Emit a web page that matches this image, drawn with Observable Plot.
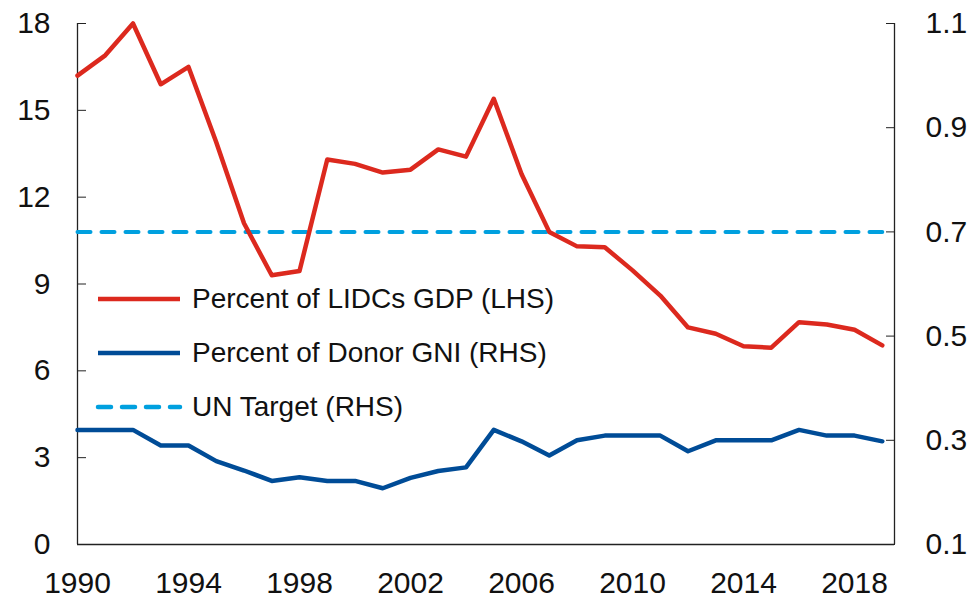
<!DOCTYPE html>
<html>
<head>
<meta charset="utf-8">
<script src="https://cdn.jsdelivr.net/npm/d3@7"></script>
<script src="https://cdn.jsdelivr.net/npm/@observablehq/plot@0.6"></script>
<style>
  html, body { margin: 0; padding: 0; background: #fff; }
  #wrap { position: relative; width: 969px; height: 598px; font-family: "Liberation Sans", Arial, sans-serif; }
  #legend { position: absolute; left: 95px; top: 272px; font-size: 28px; color: #111; }
  .item { display: flex; align-items: center; height: 54px; }
  .item svg { margin-right: 9px; }
</style>
</head>
<body>
<div id="wrap"><div id="legend"></div></div>
<script>
const years = [1990,1991,1992,1993,1994,1995,1996,1997,1998,1999,2000,2001,2002,2003,2004,2005,2006,2007,2008,2009,2010,2011,2012,2013,2014,2015,2016,2017,2018,2019];
const lidcGdp = [16.2,16.9,18.0,15.9,16.5,13.9,11.1,9.3,9.45,13.3,13.15,12.85,12.95,13.65,13.4,15.4,12.8,10.8,10.3,10.27,9.47,8.6,7.5,7.28,6.85,6.8,7.68,7.6,7.42,6.88];
const donorGni = [0.32,0.32,0.32,0.29,0.29,0.26,0.242,0.222,0.229,0.222,0.222,0.208,0.228,0.241,0.248,0.32,0.298,0.271,0.30,0.309,0.309,0.309,0.279,0.30,0.30,0.30,0.32,0.309,0.309,0.298];
const unTarget = 0.7;
const leftTicks = [0,3,6,9,12,15,18];
const rightTicks = [0.1,0.3,0.5,0.7,0.9,1.1];
const xTicks = [1990,1994,1998,2002,2006,2010,2014,2018];
const seriesNames = ["Percent of LIDCs GDP (LHS)","Percent of Donor GNI (RHS)","UN Target (RHS)"];

const RED = "#DC291E", BLUE = "#004C97", LIGHT = "#00A0DF";
const xMax = 2019.44;
// right axis (0.1..1.1) mapped onto left axis (0..18)
const toLeft = v => (v - 0.1) * 18;

const lidc = years.map((y, i) => ({year: y, value: lidcGdp[i]}));
const donor = years.map((y, i) => ({year: y, value: donorGni[i]}));
const target = [{year: years[0], value: unTarget}, {year: years[years.length - 1], value: unTarget}];

const chart = Plot.plot({
  width: 969,
  height: 598,
  marginLeft: 77,
  marginRight: 75,
  marginTop: 23,
  marginBottom: 54,
  style: {fontFamily: '"Liberation Sans", Arial, sans-serif', fontSize: "30px", color: "#111", background: "#fff"},
  x: {domain: [1990, xMax]},
  y: {domain: [0, 18]},
  marks: [
    Plot.ruleX([1990], {stroke: "#222", strokeWidth: 1.3}),
    Plot.ruleX([xMax], {stroke: "#222", strokeWidth: 1.3}),
    Plot.ruleY([0], {stroke: "#222", strokeWidth: 1.3}),
    // left axis: inward ticks + labels
    Plot.axisY({anchor: "left", label: null, ticks: leftTicks, tickSize: 9, dx: 9, tickFormat: () => "", stroke: "#222"}),
    Plot.axisY({anchor: "left", label: null, ticks: leftTicks, tickSize: 0, tickPadding: 27, tickFormat: d => String(d), fill: "#111", fontSize: 30}),
    // right axis
    Plot.axisY({anchor: "right", label: null, ticks: rightTicks.map(toLeft), tickSize: 9, dx: -9, tickFormat: () => "", stroke: "#222"}),
    Plot.axisY({anchor: "right", label: null, ticks: rightTicks.map(toLeft), tickSize: 0, tickPadding: 31, tickFormat: (d, i) => rightTicks[i].toFixed(1), fill: "#111", fontSize: 30}),
    // x axis
    Plot.axisX({anchor: "bottom", label: null, ticks: xTicks, tickSize: 0, tickPadding: 27, tickFormat: d => String(d), fill: "#111", fontSize: 30}),
    Plot.line(target, {x: "year", y: d => toLeft(d.value), stroke: LIGHT, strokeWidth: 4, strokeDasharray: "13,11", strokeLinecap: "round"}),
    Plot.line(donor, {x: "year", y: d => toLeft(d.value), stroke: BLUE, strokeWidth: 4.5, strokeLinejoin: "round"}),
    Plot.line(lidc, {x: "year", y: "value", stroke: RED, strokeWidth: 4.5, strokeLinejoin: "round"})
  ]
});
document.getElementById("wrap").prepend(chart);

const legend = document.getElementById("legend");
const styles = [
  {color: RED, dash: null},
  {color: BLUE, dash: null},
  {color: LIGHT, dash: "13,11"}
];
seriesNames.forEach((name, i) => {
  const item = document.createElement("div");
  item.className = "item";
  const s = styles[i];
  item.innerHTML = `<svg width="88" height="8"><line x1="3" y1="4" x2="85" y2="4" stroke="${s.color}" stroke-width="4.5" ${s.dash ? `stroke-dasharray="${s.dash}" stroke-linecap="round"` : ""}/></svg><span>${name}</span>`;
  legend.appendChild(item);
});
</script>
</body>
</html>
